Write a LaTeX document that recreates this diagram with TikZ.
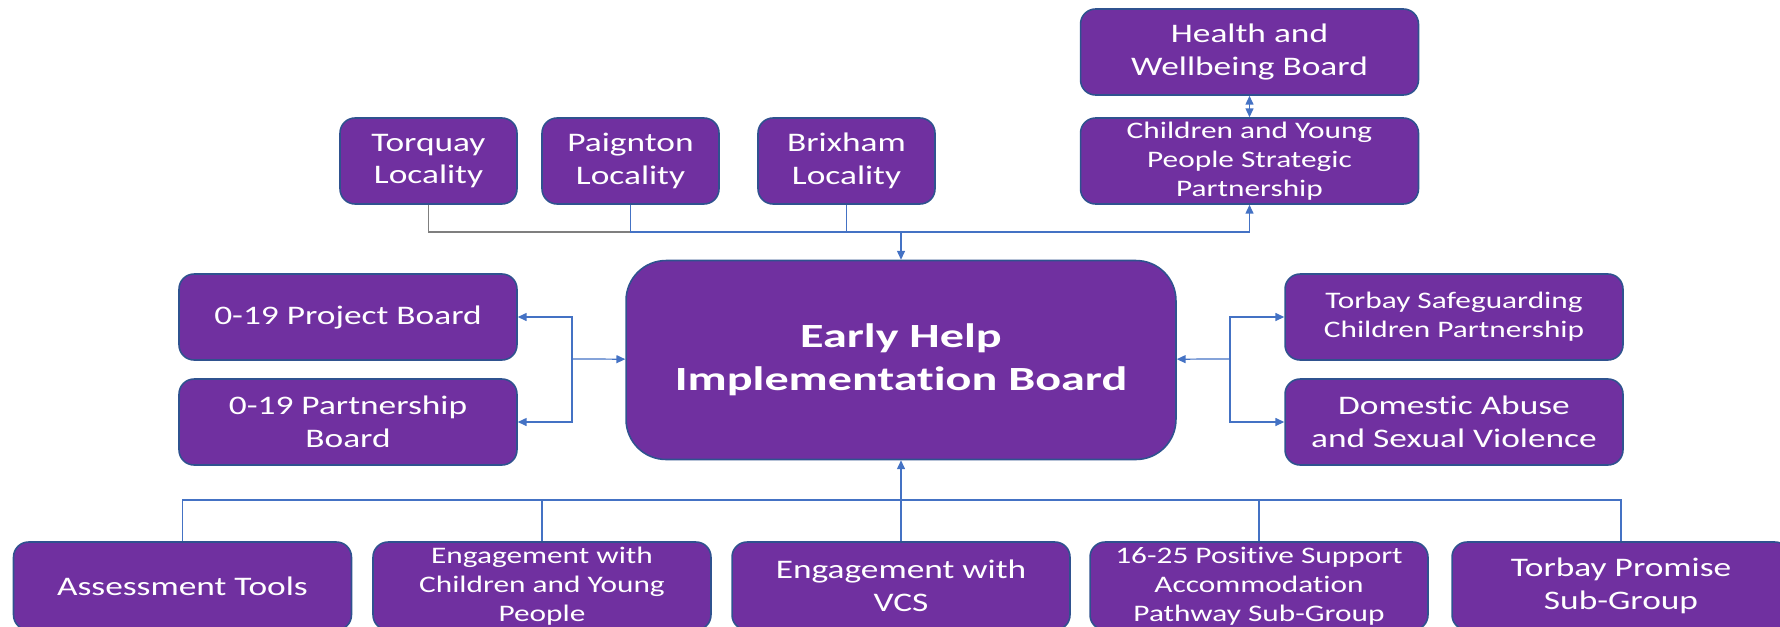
\documentclass[tikz,border=0pt]{standalone}
\usepackage{fontspec}
\setmainfont{Carlito}[FakeStretch=1.32,Ligatures=NoCommon,BoldFeatures={FakeStretch=1.42}]
\usetikzlibrary{arrows.meta}
\definecolor{pu}{HTML}{7030A0}
\definecolor{bd}{HTML}{2F528F}
\definecolor{ln}{HTML}{4472C4}
\definecolor{gy}{HTML}{7F7F7F}

\begin{document}
\begin{tikzpicture}[x=0.02cm,y=-0.02cm,
  box/.style={draw=bd,fill=pu,line width=0.9pt,rounded corners=0.3cm,text=white,align=center,inner sep=0pt,
    minimum width=6.76cm,minimum height=1.72cm,font=\fontsize{15.25}{18.6}\selectfont},
  sbox/.style={box,minimum width=3.54cm},
  tiny/.style={font=\fontsize{13.5}{16.5}\selectfont},
  con/.style={draw=ln,line width=0.7pt},
  arr/.style={con,-{Triangle[length=5pt,width=4.5pt]}},
  dbl/.style={con,{Triangle[length=5pt,width=4.5pt]}-{Triangle[length=5pt,width=4.5pt]}}]
  \useasboundingbox (0,0) rectangle (1780,626);
  \node[sbox] (tq) at (428.5,161) {Torquay\\Locality};
  \node[sbox] (pg) at (630.5,161) {Paignton\\Locality};
  \node[sbox] (bx) at (846.5,161) {Brixham\\Locality};
  \node[box] (hw) at (1249.5,52) {Health and\\Wellbeing Board};
  \node[box,tiny] (cyp) at (1249.5,161) {Children and Young\\People Strategic\\Partnership};
  \node[box,minimum width=11cm,minimum height=3.98cm,rounded corners=0.8cm,
    font=\fontsize{19.3}{24.5}\selectfont\bfseries] (main) at (901,360) {Early Help\\Implementation Board};
  \node[box] (pj) at (348,317) {0-19 Project Board};
  \node[box] (pb) at (348,422) {0-19 Partnership\\Board};
  \node[box,tiny] (sc) at (1454,317) {Torbay Safeguarding\\Children Partnership};
  \node[box] (da) at (1454,422) {Domestic Abuse\\and Sexual Violence};
  \node[box,minimum height=1.76cm] (at) at (182.5,586) {Assessment Tools};
  \node[box,tiny,minimum height=1.76cm] (ey) at (542,586) {Engagement with\\Children and Young\\People};
  \node[box,minimum height=1.76cm] (vc) at (901,586) {Engagement with\\VCS};
  \node[box,tiny,minimum height=1.76cm] (ps) at (1259,586) {16-25 Positive Support\\Accommodation\\Pathway Sub-Group};
  \node[box,minimum height=1.76cm] (tp) at (1621,586) {Torbay Promise\\Sub-Group};
  \coordinate (jt) at (901,232);
  \coordinate (jl) at (572,359);
  \coordinate (jr) at (1230,359);
  \coordinate (jb) at (901,500);
  \draw[con,draw=gy] (tq) |- (jt);
  \draw[con] (pg) |- (jt);
  \draw[con] (bx) |- (jt);
  \draw[arr] (jt) -- (main);
  \draw[arr] (jt) -| (cyp);
  \draw[dbl] (hw) -- (cyp);
  \draw[arr] (jl) -- (main);
  \draw[arr] (jl) |- (pj);
  \draw[arr] (jl) |- (pb);
  \draw[arr] (jr) -- (main);
  \draw[arr] (jr) |- (sc);
  \draw[arr] (jr) |- (da);
  \draw[arr] (vc) -- (main);
  \draw[con] (at) |- (jb);
  \draw[con] (ey) |- (jb);
  \draw[con] (ps) |- (jb);
  \draw[con] (tp) |- (jb);
\end{tikzpicture}
\end{document}
